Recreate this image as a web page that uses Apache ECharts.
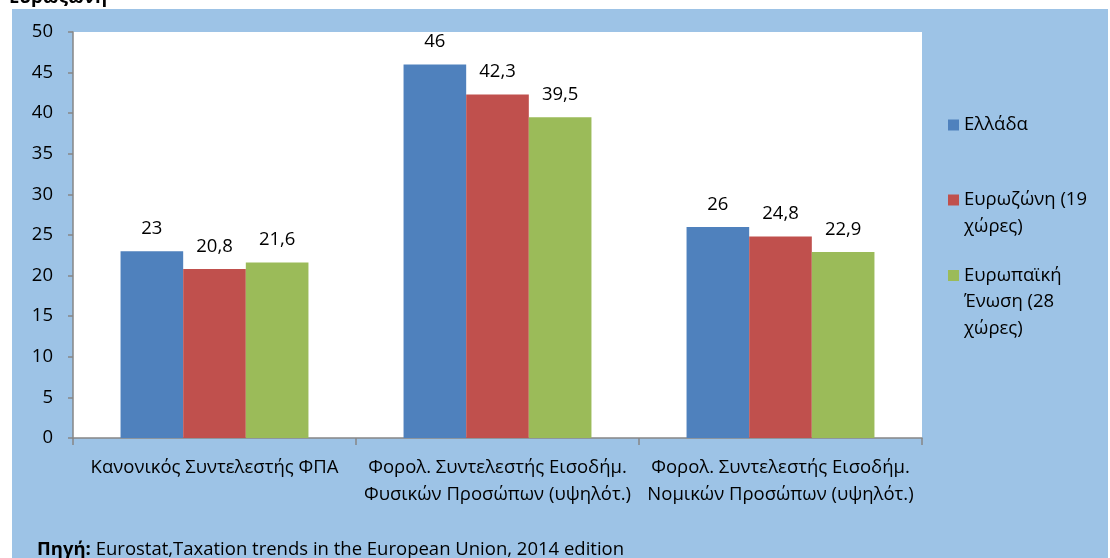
<!DOCTYPE html>
<html><head><meta charset="utf-8">
<script src="https://cdn.jsdelivr.net/npm/echarts@6/dist/echarts.min.js"></script>
<style>html,body{margin:0;padding:0;background:#fff}#c{width:1110px;height:558px}</style>
</head><body><div id="c"></div>
<script>
const categories = ['Κανονικός Συντελεστής ΦΠΑ', 'Φορολ. Συντελεστής Εισοδήμ.\nΦυσικών Προσώπων (υψηλότ.)', 'Φορολ. Συντελεστής Εισοδήμ.\nΝομικών Προσώπων (υψηλότ.)'];
const seriesNames = ['Ελλάδα', 'Ευρωζώνη (19 χώρες)', 'Ευρωπαϊκή Ένωση (28 χώρες)'];
const legendLabels = ['Ελλάδα', 'Ευρωζώνη (19\nχώρες)', 'Ευρωπαϊκή\nΈνωση (28\nχώρες)'];
const greece = [23, 46, 26];
const eurozone = [20.8, 42.3, 24.8];
const eu28 = [21.6, 39.5, 22.9];
const yMin = 0, yMax = 50, yInterval = 5;
const titleText = 'Ευρωζώνη';
const sourceBold = 'Πηγή:';
const sourceText = ' Eurostat,Taxation trends in the European Union, 2014 edition';

const FONT = 'Open Sans';
const FS = 18.5;
const colors = ['#4F81BD', '#C0504D', '#9BBB59'];
const seriesData = [greece, eurozone, eu28];
const LH = 26.5;
const legendCenters = [125, 200, 275.5];

const chart = echarts.init(document.getElementById('c'), null, {renderer: 'canvas'});
const legends = seriesNames.map((name, i) => {
  const n = legendLabels[i].split('\n').length;
  const boxH = (2 * n - 1) * LH;
  // prepend (n-1) empty lines so the icon lines up with the first text line
  const label = '\n'.repeat(n - 1) + legendLabels[i];
  return {
    orient: 'vertical',
    left: 948,
    top: legendCenters[i] - boxH / 2,
    padding: 0,
    itemWidth: 11,
    itemHeight: 11,
    icon: 'rect',
    selectedMode: false,
    data: [name],
    formatter: () => label,
    textStyle: {fontFamily: FONT, fontSize: FS, color: '#000', lineHeight: LH}
  };
});

chart.setOption({
  animation: false,
  backgroundColor: '#fff',
  color: colors,
  title: [{
    text: titleText, left: 9, top: -12, padding: 0,
    textStyle: {fontFamily: FONT, fontSize: FS, fontWeight: 'bold', color: '#000'}
  }],
  graphic: [{
    type: 'rect', z: -100, silent: true,
    shape: {x: 12, y: 9, width: 1096, height: 549},
    style: {fill: '#9DC3E6'}
  }, {
    type: 'text', z: 10, left: 37, top: 540,
    style: {
      text: '{b|' + sourceBold + '}' + sourceText,
      fontFamily: FONT, fontSize: FS, fill: '#000',
      rich: {b: {fontFamily: FONT, fontSize: FS, fontWeight: 'bold', fill: '#000'}}
    }
  }],
  legend: legends,
  grid: {left: 73, top: 32, width: 849, height: 406, show: true, backgroundColor: '#fff', borderWidth: 0, containLabel: false},
  xAxis: {
    type: 'category', data: categories,
    axisLine: {lineStyle: {color: '#868686', width: 1.5}},
    axisTick: {show: true, length: 7, lineStyle: {color: '#868686', width: 1.5}},
    axisLabel: {fontFamily: FONT, fontSize: FS, color: '#000', lineHeight: 27, margin: 16, interval: 0}
  },
  yAxis: {
    type: 'value', min: yMin, max: yMax, interval: yInterval,
    axisLine: {show: true, lineStyle: {color: '#868686', width: 1.5}},
    axisTick: {show: true, length: 5, lineStyle: {color: '#868686', width: 1.5}},
    splitLine: {show: false},
    axisLabel: {fontFamily: FONT, fontSize: FS, color: '#000', margin: 20}
  },
  series: seriesNames.map((name, i) => ({
    type: 'bar', name: name, data: seriesData[i],
    barGap: 0, barCategoryGap: '33.6%',
    itemStyle: {color: colors[i]},
    label: {
      show: true, position: 'top', distance: 13,
      fontFamily: FONT, fontSize: FS, color: '#000',
      formatter: p => String(p.value).replace('.', ',')
    }
  }))
});
</script></body></html>
